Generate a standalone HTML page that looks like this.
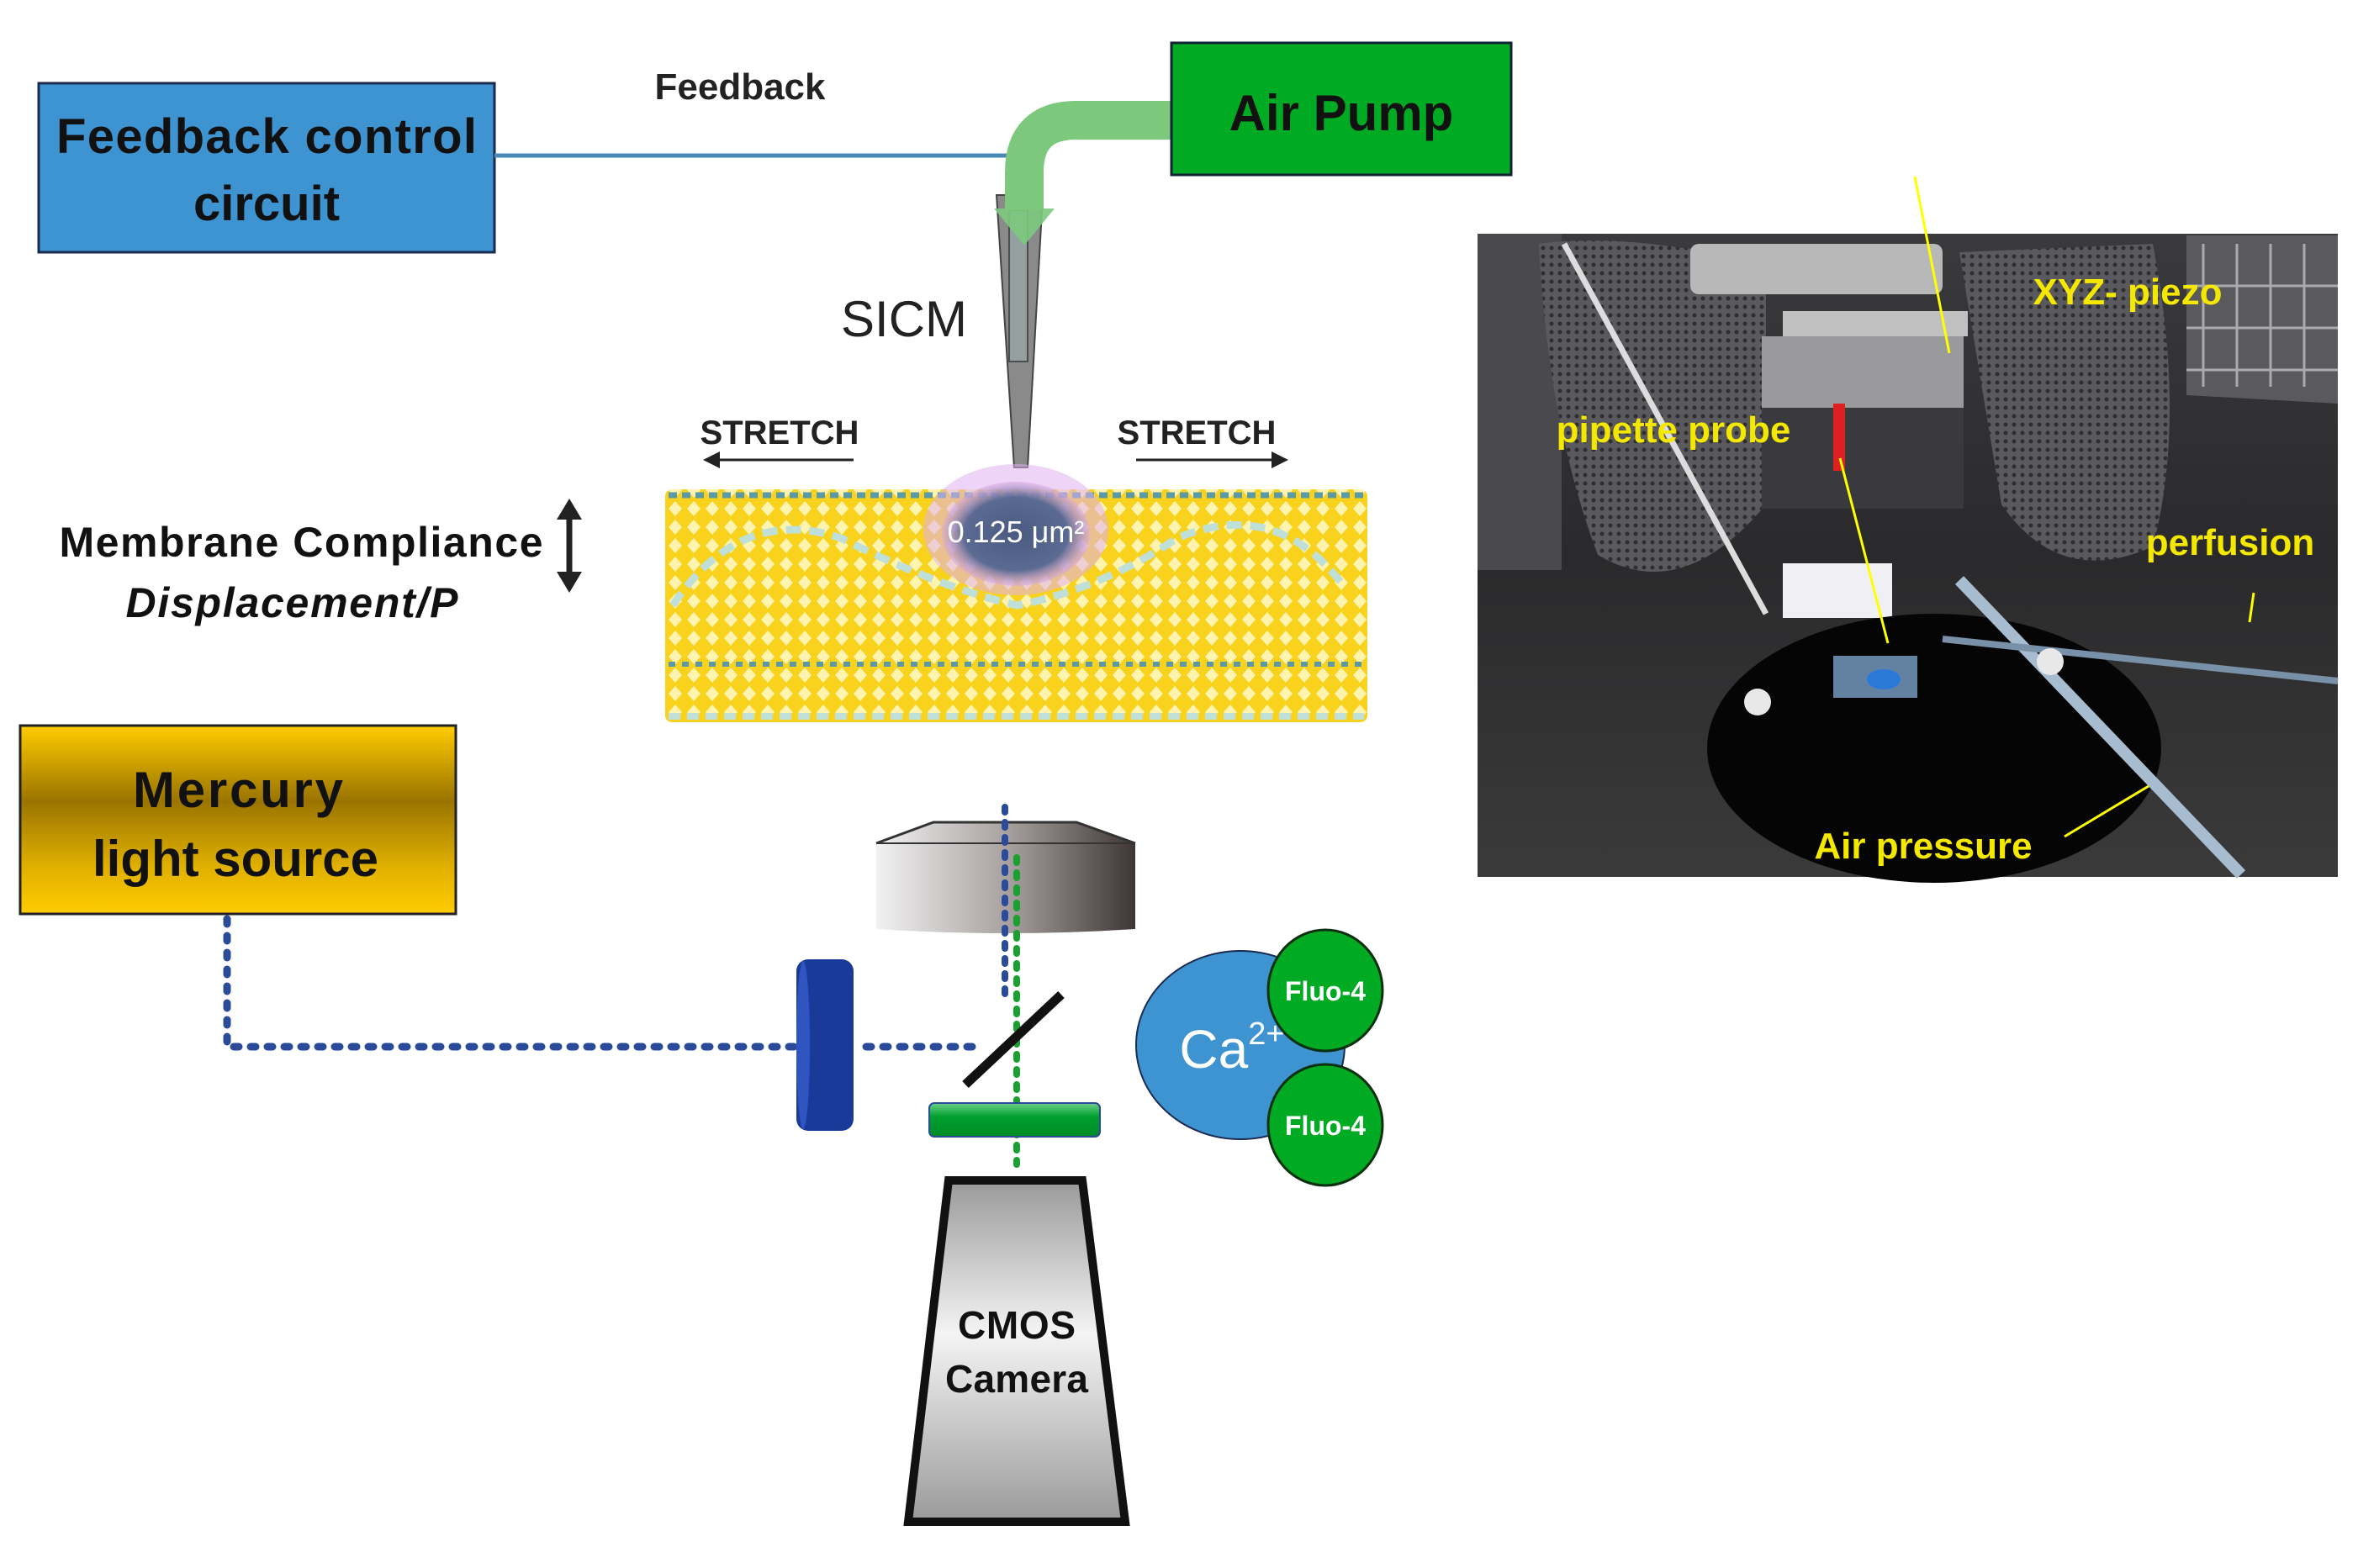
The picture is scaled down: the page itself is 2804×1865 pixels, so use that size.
<!DOCTYPE html>
<html><head><meta charset="utf-8"><style>
html,body{margin:0;padding:0;background:#fff;width:2804px;height:1865px;overflow:hidden}
text{font-family:"Liberation Sans",sans-serif}
</style></head><body>
<svg width="2804" height="1865" viewBox="0 0 2804 1865" xmlns="http://www.w3.org/2000/svg">
<defs>
<linearGradient id="gold" x1="0" y1="0" x2="0" y2="1">
<stop offset="0" stop-color="#ffcc00"/><stop offset="0.4" stop-color="#9a7400"/><stop offset="0.75" stop-color="#e0b000"/><stop offset="1" stop-color="#ffcc00"/></linearGradient>
<linearGradient id="obj" x1="0" y1="0" x2="1" y2="0">
<stop offset="0" stop-color="#f2f2f2"/><stop offset="0.5" stop-color="#a8a2a0"/><stop offset="1" stop-color="#3e3634"/></linearGradient>
<linearGradient id="cam" x1="0" y1="0" x2="0" y2="1">
<stop offset="0" stop-color="#9a9a9a"/><stop offset="0.45" stop-color="#f4f4f4"/><stop offset="1" stop-color="#9a9a9a"/></linearGradient>
<linearGradient id="gfil" x1="0" y1="0" x2="0" y2="1">
<stop offset="0" stop-color="#6fd08a"/><stop offset="0.4" stop-color="#00a030"/><stop offset="1" stop-color="#008a28"/></linearGradient>
<linearGradient id="photo" x1="0" y1="0" x2="0" y2="1">
<stop offset="0" stop-color="#3a3a3c"/><stop offset="0.5" stop-color="#2a2a2c"/><stop offset="1" stop-color="#3a3a3a"/></linearGradient>
<pattern id="lip" width="22" height="22" patternUnits="userSpaceOnUse">
<rect width="22" height="22" fill="#f8d21c"/>
<path d="M11 2 L19 11 L11 20 L3 11Z" fill="#fff3b0"/>
</pattern>
<pattern id="mesh" width="10" height="10" patternUnits="userSpaceOnUse">
<rect width="10" height="10" fill="#5a5a5e"/><circle cx="5" cy="5" r="2.5" fill="#2e2e30"/></pattern>
<radialGradient id="blob" cx="0.5" cy="0.5" r="0.5">
<stop offset="0" stop-color="#4a5a80"/><stop offset="0.7" stop-color="#5a6a92"/><stop offset="1" stop-color="#d8a8e0" stop-opacity="0.5"/></radialGradient>
</defs>

<rect x="46" y="99" width="542" height="201" fill="#3d94d0" stroke="#1a2a50" stroke-width="3"/>
<text x="317" y="182" font-size="58" font-weight="bold" text-anchor="middle" fill="#111" textLength="500">Feedback control</text>
<text x="317" y="262" font-size="58" font-weight="bold" text-anchor="middle" fill="#111">circuit</text>
<text x="880" y="118" font-size="44" font-weight="bold" text-anchor="middle" fill="#222">Feedback</text>
<line x1="588" y1="185" x2="1215" y2="185" stroke="#4a8ab8" stroke-width="5"/>

<path d="M1185 232 L1240 232 L1222 556 L1206 556 Z" fill="#8a8a8a" stroke="#444" stroke-width="2"/>
<rect x="1200" y="250" width="22" height="180" fill="#9aa" stroke="#333" stroke-width="2" opacity="0.7"/>

<path d="M1393 143 L1280 143 Q1218 143 1218 205 L1218 250" fill="none" stroke="#7cc97e" stroke-width="46"/>
<path d="M1182 248 L1254 248 L1218 292 Z" fill="#7cc97e" opacity="0.9"/>
<rect x="1393" y="51" width="404" height="157" fill="#00aa22" stroke="#123" stroke-width="3"/>
<text x="1595" y="155" font-size="60" font-weight="bold" text-anchor="middle" fill="#111">Air Pump</text>

<text x="1075" y="400" font-size="60" text-anchor="middle" fill="#222">SICM</text>

<text x="927" y="528" font-size="40" font-weight="bold" text-anchor="middle" fill="#222">STRETCH</text>
<text x="1423" y="528" font-size="40" font-weight="bold" text-anchor="middle" fill="#222">STRETCH</text>
<line x1="850" y1="547" x2="1015" y2="547" stroke="#222" stroke-width="3"/>
<path d="M836 547 L856 537 L856 557Z" fill="#222"/>
<line x1="1351" y1="547" x2="1516" y2="547" stroke="#222" stroke-width="3"/>
<path d="M1532 547 L1512 537 L1512 557Z" fill="#222"/>

<rect x="791" y="582" width="835" height="277" rx="8" fill="url(#lip)"/>
<line x1="795" y1="589" x2="1622" y2="589" stroke="#5a9aa8" stroke-width="7" stroke-dasharray="10 6"/>
<line x1="795" y1="790" x2="1622" y2="790" stroke="#5a9aa8" stroke-width="6" stroke-dasharray="8 8"/>
<line x1="795" y1="852" x2="1622" y2="852" stroke="#bfe0d8" stroke-width="8" stroke-dasharray="14 8"/>
<path d="M800 720 Q880 600 1000 640 Q1120 700 1210 720 Q1310 700 1400 640 Q1520 590 1600 700" fill="none" stroke="#bfe0d8" stroke-width="9" stroke-dasharray="18 10"/>
<ellipse cx="1208" cy="630" rx="110" ry="78" fill="#e0b0f0" opacity="0.55"/>
<ellipse cx="1208" cy="635" rx="88" ry="62" fill="url(#blob)"/>
<text x="1208" y="645" font-size="36" text-anchor="middle" fill="#fff">0.125 μm²</text>

<text x="358" y="662" font-size="50" font-weight="bold" text-anchor="middle" fill="#111" textLength="575">Membrane Compliance</text>
<text x="347" y="734" font-size="50" font-weight="bold" font-style="italic" text-anchor="middle" fill="#111" textLength="395">Displacement/P</text>
<line x1="677" y1="610" x2="677" y2="688" stroke="#222" stroke-width="7"/>
<path d="M677 593 L662 618 L692 618Z M677 705 L662 680 L692 680Z" fill="#222"/>

<rect x="24" y="863" width="518" height="224" fill="url(#gold)" stroke="#222" stroke-width="3"/>
<text x="283" y="960" font-size="60" font-weight="bold" text-anchor="middle" fill="#111" textLength="250">Mercury</text>
<text x="280" y="1042" font-size="60" font-weight="bold" text-anchor="middle" fill="#111" textLength="340">light source</text>

<path d="M270 1093 L270 1245 L945 1245" fill="none" stroke="#2a4a9a" stroke-width="9" stroke-dasharray="6 14" stroke-linecap="round"/>
<path d="M1030 1245 L1160 1245" fill="none" stroke="#2a4a9a" stroke-width="9" stroke-dasharray="6 14" stroke-linecap="round"/>
<path d="M1042 1003 L1110 978 L1280 978 L1350 1003 L1350 1105 Q1196 1115 1042 1105 Z" fill="url(#obj)"/>
<path d="M1042 1003 L1110 978 L1280 978 L1350 1003" fill="none" stroke="#333" stroke-width="3"/>
<line x1="1042" y1="1003" x2="1350" y2="1003" stroke="#333" stroke-width="2"/>
<line x1="1195" y1="960" x2="1195" y2="1186" stroke="#2a4a9a" stroke-width="8" stroke-dasharray="6 12" stroke-linecap="round"/>
<line x1="1209" y1="1020" x2="1209" y2="1385" stroke="#1aa030" stroke-width="8" stroke-dasharray="6 12" stroke-linecap="round"/>
<rect x="947" y="1141" width="68" height="204" rx="14" fill="#1a3a9a"/>
<ellipse cx="955" cy="1243" rx="8" ry="100" fill="#2f55c0"/>
<line x1="1148" y1="1290" x2="1262" y2="1183" stroke="#111" stroke-width="11"/>
<rect x="1105" y="1312" width="203" height="40" rx="6" fill="url(#gfil)" stroke="#2a4a9a" stroke-width="2"/>
<path d="M1128 1404 L1287 1404 L1338 1810 L1080 1810 Z" fill="url(#cam)" stroke="#111" stroke-width="10"/>
<text x="1209" y="1592" font-size="46" font-weight="bold" text-anchor="middle" fill="#111" textLength="140">CMOS</text>
<text x="1209" y="1656" font-size="46" font-weight="bold" text-anchor="middle" fill="#111" textLength="170">Camera</text>
<ellipse cx="1475" cy="1243" rx="124" ry="112" fill="#3d94d0" stroke="#1a2a50" stroke-width="2"/>
<text x="1465" y="1270" font-size="64" text-anchor="middle" fill="#fff">Ca<tspan font-size="38" dy="-28">2+</tspan></text>
<ellipse cx="1576" cy="1178" rx="68" ry="72" fill="#00aa22" stroke="#0a3010" stroke-width="3"/>
<ellipse cx="1576" cy="1338" rx="68" ry="72" fill="#00aa22" stroke="#0a3010" stroke-width="3"/>
<text x="1576" y="1190" font-size="32" font-weight="bold" text-anchor="middle" fill="#fff">Fluo-4</text>
<text x="1576" y="1350" font-size="32" font-weight="bold" text-anchor="middle" fill="#fff">Fluo-4</text>

<g>
<rect x="1757" y="278" width="1023" height="765" fill="url(#photo)"/>
<rect x="1757" y="278" width="100" height="400" fill="#4a4a4e"/>
<path d="M1830 290 Q1900 280 2000 295 L2100 300 L2100 600 Q2000 720 1900 660 Q1840 500 1830 290Z" fill="url(#mesh)"/>
<path d="M2330 300 L2560 290 Q2600 500 2560 650 Q2450 700 2380 600 Z" fill="url(#mesh)"/>
<path d="M2600 280 L2780 280 L2780 480 L2600 470Z" fill="#5a5a5e"/>
<g stroke="#aaa" stroke-width="3"><line x1="2620" y1="290" x2="2620" y2="460"/><line x1="2660" y1="290" x2="2660" y2="460"/><line x1="2700" y1="290" x2="2700" y2="460"/><line x1="2740" y1="290" x2="2740" y2="460"/><line x1="2600" y1="340" x2="2780" y2="340"/><line x1="2600" y1="390" x2="2780" y2="390"/><line x1="2600" y1="440" x2="2780" y2="440"/></g>
<rect x="2010" y="290" width="300" height="60" rx="10" fill="#b8b8b8"/>
<rect x="2120" y="370" width="220" height="30" fill="#c0c0c0"/>
<rect x="2095" y="400" width="240" height="85" fill="#9a9a9c"/>
<rect x="2095" y="485" width="240" height="120" fill="#3a3a3e"/>
<rect x="2120" y="670" width="130" height="65" fill="#f0f0f4"/>
<ellipse cx="2300" cy="890" rx="270" ry="160" fill="#050505"/>
<rect x="2180" y="780" width="100" height="50" fill="#7aa0c8" opacity="0.8"/>
<ellipse cx="2240" cy="808" rx="20" ry="12" fill="#2a7ad8"/>
<rect x="2180" y="480" width="14" height="80" fill="#e02020"/>
<line x1="1860" y1="290" x2="2100" y2="730" stroke="#ddd" stroke-width="7" fill="none"/>
<line x1="2330" y1="690" x2="2665" y2="1040" stroke="#a8bcd0" stroke-width="14"/>
<line x1="2310" y1="760" x2="2780" y2="810" stroke="#7890a8" stroke-width="8"/>
<circle cx="2090" cy="835" r="16" fill="#e8e8e8"/>
<circle cx="2438" cy="787" r="16" fill="#e8e8e8"/>
<g stroke="#ffff00" stroke-width="3"><line x1="2277" y1="210" x2="2318" y2="420"/><line x1="2188" y1="545" x2="2245" y2="765"/><line x1="2680" y1="705" x2="2675" y2="740"/><line x1="2455" y1="995" x2="2555" y2="935"/></g>
<text x="2530" y="362" font-size="44" font-weight="bold" text-anchor="middle" fill="#f5e800">XYZ- piezo</text>
<text x="1990" y="526" font-size="44" font-weight="bold" text-anchor="middle" fill="#f5e800">pipette probe</text>
<text x="2652" y="660" font-size="44" font-weight="bold" text-anchor="middle" fill="#f5e800">perfusion</text>
<text x="2287" y="1021" font-size="44" font-weight="bold" text-anchor="middle" fill="#f5e800">Air pressure</text>
</g>
</svg>
</body></html>
